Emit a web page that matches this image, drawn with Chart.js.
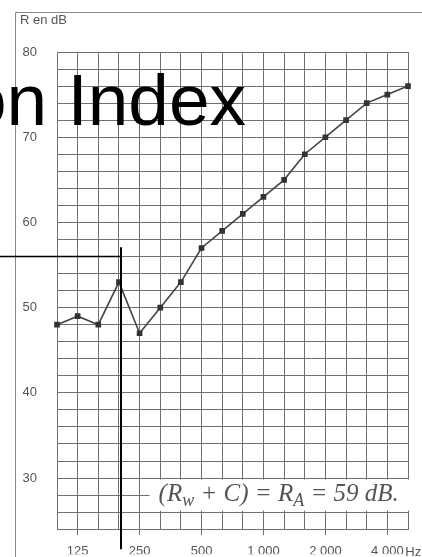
<!DOCTYPE html>
<html>
<head>
<meta charset="utf-8">
<script src="https://cdn.jsdelivr.net/npm/chart.js@4/dist/chart.umd.min.js"></script>
<style>
  html, body { margin: 0; padding: 0; background: #fff; }
  #wrap { width: 422px; height: 557px; position: relative; }
</style>
</head>
<body>
<div id="wrap"><canvas id="mycanvas1"></canvas></div>
<script>
// third-octave bands, Hz
var freqs = ['100','125','160','200','250','315','400','500','630','800','1000','1250','1600','2000','2500','3150','4000','5000'];
// R in dB
var rValues = [48, 49, 48, 53, 47, 50, 53, 57, 59, 61, 63, 65, 68, 70, 72, 74, 75, 76];
// which bands carry a label on the x axis
var xTickLabels = ['', '125', '', '', '250', '', '', '500', '', '', '1 000', '', '', '2 000', '', '', '4 000', ''];
var yTickLabels = [30, 40, 50, 60, 70, 80];

var titleText = 'Sound Reduction Index';
var yAxisText = 'R en dB';
var unitText = 'Hz';
var raLevel = 56;     // horizontal reference line, dB
var raBand = 3.1;     // vertical reference line, band index
var gridGrey = '#707070';
var textGrey = '#555';

var extras = {
  id: 'extras',
  afterDraw: function(chart) {
    var c = chart.ctx;
    var xs = chart.scales.x, ys = chart.scales.y;
    var W = chart.width, H = chart.height;
    c.save();

    // outer frame of the scanned page
    c.strokeStyle = '#888';
    c.lineWidth = 1;
    c.beginPath();
    c.moveTo(15.5, H);
    c.lineTo(15.5, 12.5);
    c.lineTo(W, 12.5);
    c.stroke();

    c.fillStyle = textGrey;
    c.font = '13px "Liberation Sans", Arial, sans-serif';
    c.textBaseline = 'middle';
    c.textAlign = 'left';
    c.fillText(yAxisText, 20, 20);
    c.fillText(unitText, xs.getPixelForValue(16) + 18, H - 5);

    // annotation box
    var bx = xs.getPixelForValue(4) + 10;
    var by1 = ys.getPixelForValue(30) + 1.5;
    var by2 = ys.getPixelForValue(26) - 1.5;
    c.fillStyle = '#fff';
    c.fillRect(bx, by1, W - 3 - bx, by2 - by1);

    var parts = [['(R', 0], ['w', 1], [' + C) = R', 0], ['A', 1], [' = 59 dB.', 0]];
    var tx = bx + 9, base = ys.getPixelForValue(26) - 11;
    c.fillStyle = '#555';
    c.textBaseline = 'alphabetic';
    parts.forEach(function(p) {
      c.font = p[1] ? 'italic 18px "Liberation Serif", "Times New Roman", serif'
                     : 'italic 25px "Liberation Serif", "Times New Roman", serif';
      c.fillText(p[0], tx, base + (p[1] ? 5 : 0));
      tx += c.measureText(p[0]).width;
    });

    // R_A reference lines
    var vx = xs.getPixelForValue(3) + (xs.getPixelForValue(4) - xs.getPixelForValue(3)) * (raBand - 3);
    var hy = ys.getPixelForValue(raLevel);
    c.strokeStyle = '#000';
    c.lineWidth = 1.5;
    c.beginPath();
    c.moveTo(0, hy);
    c.lineTo(vx, hy);
    c.stroke();
    c.lineWidth = 2;
    c.beginPath();
    c.moveTo(vx, ys.getPixelForValue(raLevel + 1.1));
    c.lineTo(vx, ys.getPixelForValue(24) + 20);
    c.stroke();

    // big overlaid title
    c.fillStyle = '#000';
    c.font = '73px "Liberation Sans", Arial, sans-serif';
    c.textAlign = 'right';
    c.fillText(titleText, 246, 125);
    c.restore();
  }
};

var ctx = document.getElementById('mycanvas1');
var chart = new Chart(ctx, {
  type: 'line',
  data: {
    labels: freqs,
    datasets: [{
      label: 'R',
      data: rValues,
      borderColor: '#444',
      borderWidth: 1.6,
      backgroundColor: '#333',
      pointStyle: 'rect',
      pointRadius: 4,
      pointBackgroundColor: '#333',
      pointBorderColor: '#333',
      pointBorderWidth: 0,
      tension: 0,
      fill: false
    }]
  },
  options: {
    responsive: true,
    maintainAspectRatio: false,
    animation: false,
    events: [],
    layout: { padding: { top: 52, right: 14, left: 0, bottom: 0 } },
    plugins: { legend: { display: false }, tooltip: { enabled: false }, title: { display: false } },
    scales: {
      x: {
        type: 'category',
        offset: false,
        afterFit: function(s) { s.height = 25; },
        grid: {
          color: gridGrey,
          lineWidth: 1,
          drawTicks: true,
          tickLength: 6,
          tickColor: function(c) { return xTickLabels[c.index] ? gridGrey : 'rgba(0,0,0,0)'; }
        },
        border: { color: gridGrey },
        ticks: {
          autoSkip: false,
          maxRotation: 0,
          padding: 8,
          color: textGrey,
          font: { family: '"Liberation Sans", Arial, sans-serif', size: 13 },
          callback: function(v, i) { return xTickLabels[i]; }
        }
      },
      y: {
        min: 24,
        max: 80,
        afterFit: function(s) { s.width = 57; },
        grid: { color: gridGrey, lineWidth: 1, drawTicks: false },
        border: { color: gridGrey },
        ticks: {
          stepSize: 2,
          autoSkip: false,
          maxTicksLimit: 100,
          padding: 20,
          color: textGrey,
          font: { family: '"Liberation Sans", Arial, sans-serif', size: 13 },
          callback: function(v) { return yTickLabels.indexOf(v) >= 0 ? v : ''; }
        }
      }
    }
  },
  plugins: [extras]
});
</script>
</body>
</html>
